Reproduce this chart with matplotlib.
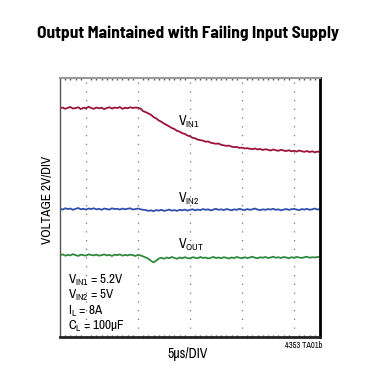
import numpy as np
import matplotlib
matplotlib.use('Agg')
import matplotlib.pyplot as plt

plt.rcParams['font.family'] = ['Archivo Narrow', 'DejaVu Sans']
plt.rcParams['mathtext.fontset'] = 'custom'
plt.rcParams['mathtext.rm'] = 'Archivo Narrow'

# scope traces, screen volts (2V/DIV), 0.25us per sample over 25us
vin1 = [8.83, 8.86, 8.81, 8.85, 8.88, 8.82, 8.84, 8.87, 8.80, 8.85,
        8.83, 8.89, 8.84, 8.81, 8.86, 8.83, 8.85, 8.80, 8.84, 8.87,
        8.82, 8.86, 8.84, 8.88, 8.81, 8.85, 8.83, 8.87, 8.84, 8.86,
        8.85, 8.82, 8.72, 8.68, 8.63, 8.58, 8.49, 8.44, 8.36, 8.31,
        8.24, 8.19, 8.13, 8.07, 8.03, 7.96, 7.93, 7.87, 7.84, 7.78,
        7.75, 7.69, 7.67, 7.62, 7.60, 7.58, 7.54, 7.55, 7.50, 7.48,
        7.46, 7.47, 7.42, 7.40, 7.38, 7.39, 7.35, 7.33, 7.34, 7.30,
        7.31, 7.28, 7.29, 7.27, 7.25, 7.28, 7.24, 7.26, 7.22, 7.25,
        7.23, 7.20, 7.24, 7.21, 7.19, 7.23, 7.20, 7.18, 7.21, 7.17,
        7.19, 7.16, 7.20, 7.17, 7.15, 7.18, 7.14, 7.17, 7.13, 7.16,
        7.14]
vin2 = [4.95, 4.92, 4.97, 4.94, 4.96, 4.91, 4.95, 4.98, 4.93, 4.95,
        4.92, 4.96, 4.94, 4.97, 4.93, 4.95, 4.91, 4.96, 4.94, 4.92,
        4.97, 4.94, 4.95, 4.92, 4.96, 4.93, 4.95, 4.97, 4.92, 4.94,
        4.96, 4.93, 4.91, 4.90, 4.87, 4.89, 4.86, 4.90, 4.88, 4.91,
        4.87, 4.89, 4.92, 4.88, 4.90, 4.87, 4.91, 4.89, 4.92, 4.88,
        4.91, 4.93, 4.89, 4.92, 4.90, 4.94, 4.91, 4.93, 4.89, 4.92,
        4.95, 4.91, 4.93, 4.90, 4.94, 4.92, 4.89, 4.93, 4.91, 4.95,
        4.92, 4.90, 4.94, 4.91, 4.93, 4.96, 4.92, 4.90, 4.93, 4.91,
        4.94, 4.92, 4.95, 4.91, 4.93, 4.89, 4.92, 4.94, 4.91, 4.93,
        4.95, 4.92, 4.90, 4.94, 4.92, 4.95, 4.91, 4.93, 4.96, 4.92,
        4.94]
vout = [3.16, 3.19, 3.14, 3.17, 3.15, 3.20, 3.16, 3.13, 3.18, 3.16,
        3.14, 3.19, 3.17, 3.15, 3.18, 3.14, 3.16, 3.19, 3.15, 3.17,
        3.13, 3.18, 3.16, 3.19, 3.14, 3.17, 3.15, 3.18, 3.16, 3.13,
        3.17, 3.15, 3.11, 3.07, 3.02, 2.94, 2.88, 2.95, 3.03, 3.06,
        3.02, 3.07, 3.04, 3.09, 3.05, 3.02, 3.07, 3.04, 3.08, 3.05,
        3.03, 3.08, 3.06, 3.04, 3.09, 3.05, 3.07, 3.03, 3.06, 3.09,
        3.05, 3.07, 3.04, 3.08, 3.06, 3.03, 3.07, 3.05, 3.09, 3.06,
        3.04, 3.08, 3.05, 3.07, 3.10, 3.06, 3.04, 3.08, 3.06, 3.09,
        3.05, 3.07, 3.10, 3.06, 3.08, 3.05, 3.09, 3.07, 3.04, 3.08,
        3.06, 3.09, 3.07, 3.05, 3.08, 3.10, 3.06, 3.08, 3.07, 3.09,
        3.08]

t1 = np.linspace(0, 25, len(vin1))
t2 = np.linspace(0, 25, len(vin2))
t3 = np.linspace(0, 25, len(vout))

grid_x = [2.5, 7.5, 12.5, 17.5, 22.5]
minor_x = [v * 0.5 for v in range(1, 50) if (v * 0.5) not in grid_x]

fig = plt.figure(figsize=(3.68, 3.73), dpi=100)
ax = fig.add_axes([60 / 368, 1 - 337 / 373, 260 / 368, 259 / 373])

ax.plot(t1, vin1, color='#9c1238', lw=1.3)
ax.plot(t2, vin2, color='#2f4fae', lw=1.3)
ax.plot(t3, vout, color='#2e8a3c', lw=1.3)

ax.set_xlim(0, 25)
ax.set_ylim(0, 10)
ax.set_xticks(grid_x)
ax.set_xticks(minor_x, minor=True)
ax.set_yticks([])
ax.set_xticklabels([])
ax.tick_params(axis='x', which='major', length=0)
ax.tick_params(axis='x', which='minor', direction='in', length=1.5, width=1.0,
               colors='#555555', top=True, bottom=True)
ax.grid(axis='x', color='#777777', linestyle=(0, (1, 6)), linewidth=0.9)

ax.spines['left'].set_color('#555555')
ax.spines['left'].set_linewidth(1.0)
ax.spines['top'].set_color('#999999')
ax.spines['top'].set_linewidth(1.5)
ax.spines['right'].set_color('black')
ax.spines['right'].set_linewidth(2.0)
ax.spines['bottom'].set_color('#222222')
ax.spines['bottom'].set_linewidth(2.0)

ax.text(11.35, 8.3, r'V$_{\mathregular{IN1}}$', fontsize=10, va='center')
ax.text(11.35, 5.35, r'V$_{\mathregular{IN2}}$', fontsize=10, va='center')
ax.text(11.35, 3.55, r'V$_{\mathregular{OUT}}$', fontsize=10, va='center')

notes = [r'V$_{\mathregular{IN1}}$ = 5.2V', r'V$_{\mathregular{IN2}}$ = 5V',
         r'I$_{\mathregular{L}}$ = 8A', r'C$_{\mathregular{L}}$ = 100µF']
for i, s in enumerate(notes):
    ax.text(0.75, 2.2 - i * 0.6, s, fontsize=9.5, va='center')

fig.text(188 / 368, 1 - 33 / 373, 'Output Maintained with Failing Input Supply',
         ha='center', va='center', fontsize=12.5, fontweight='bold',
         family=['Barlow Semi Condensed', 'DejaVu Sans'])
fig.text(47 / 368, 1 - 200 / 373, 'VOLTAGE 2V/DIV', rotation=90,
         ha='center', va='center', fontsize=9.5)
fig.text(188 / 368, 1 - 354 / 373, '5µs/DIV', ha='center', va='center', fontsize=10)
fig.text(322 / 368, 1 - 346 / 373, '4353 TA01b', ha='right', va='center', fontsize=6)

fig.savefig('out.png', dpi=100)
